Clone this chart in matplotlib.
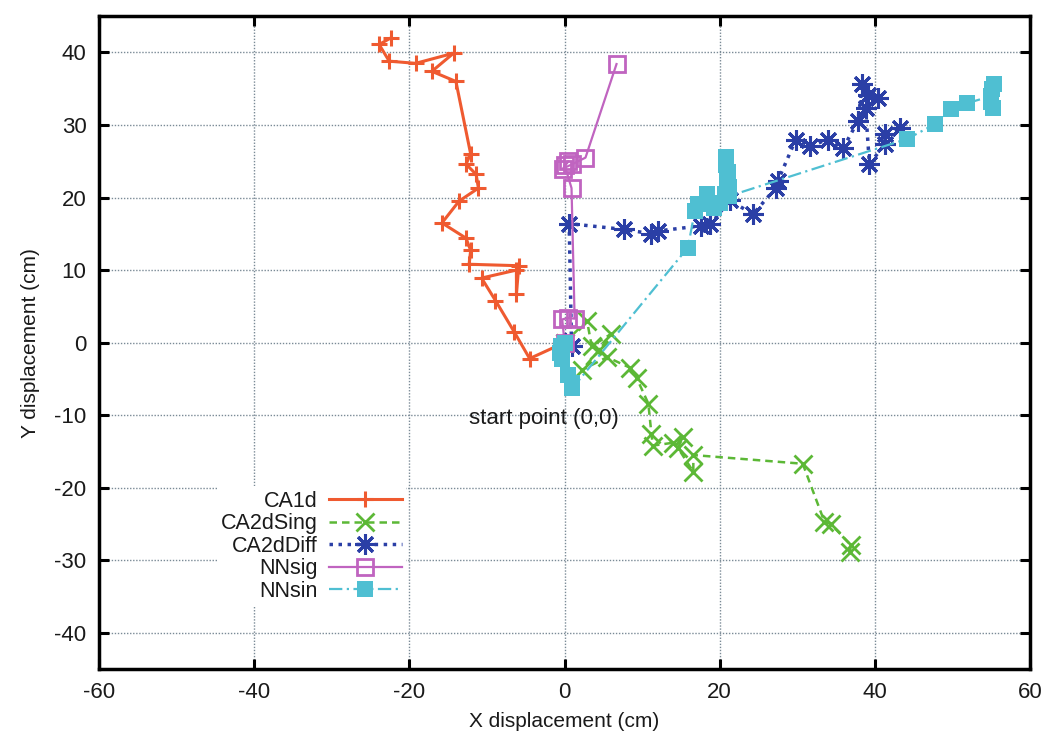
import matplotlib
matplotlib.use("Agg")
import matplotlib.pyplot as plt

plt.rcParams['font.family'] = ['Liberation Sans', 'DejaVu Sans']
plt.rcParams['axes.unicode_minus'] = False

# ---- data (cm) ----
ca1d_x = [0, -4.5, -6.5, -8.9, -10.7, -6.2, -6.2, -5.9, -12.3, -12.1, -12.7, -15.8,
          -13.6, -11.1, -11.4, -12.7, -12.1, -14.0, -17.1, -14.3, -19.2, -22.6, -23.9, -22.4]
ca1d_y = [0, -2.2, 1.5, 5.8, 8.9, 10.0, 6.7, 10.6, 10.8, 12.7, 14.4, 16.5,
          19.5, 21.3, 23.2, 24.6, 26.0, 36.0, 37.4, 39.9, 38.5, 38.8, 41.1, 42.0]

ca2dsing_x = [0, 2.9, 3.5, 6.0, 4.5, 2.2, 5.5, 8.5, 9.3, 10.8, 11.2, 11.4, 14.0, 15.3,
              14.6, 16.6, 16.6, 30.7, 33.5, 34.3, 36.9, 36.8]
ca2dsing_y = [0, 3.0, -0.5, 1.2, -1.0, -3.8, -2.0, -3.5, -4.9, -8.4, -12.6, -14.2, -13.8, -13.0,
              -14.5, -17.8, -15.5, -16.7, -24.7, -25.0, -27.9, -28.9]

ca2ddiff_x = [0, 0.9, 0.6, 7.7, 11.2, 12.1, 17.6, 18.8, 21.3, 24.3, 27.2, 27.5, 29.8, 31.7,
              33.9, 35.9, 37.8, 38.4, 39.1, 40.4, 38.8, 39.3, 41.3, 41.3, 43.2]
ca2ddiff_y = [0, -0.4, 16.4, 15.6, 15.0, 15.4, 16.1, 16.3, 19.6, 17.7, 21.3, 22.3, 28.0, 27.1,
              28.0, 26.8, 30.5, 35.6, 34.2, 33.7, 32.3, 24.6, 27.4, 28.7, 29.6]

nnsig_x = [0, -0.3, 0.5, 1.3, 0.9, 0.0, 0.5, -0.2, 1.0, 2.7, 6.7]
nnsig_y = [0, 3.2, 3.4, 3.3, 21.3, 24.5, 25.0, 24.0, 24.6, 25.5, 38.4]

nnsin_x = [0, -0.5, -0.6, -0.3, 0.4, 1.0, 1.0, 15.9, 16.8, 17.2, 18.3, 19.2, 20.0, 20.7,
           21.2, 20.9, 21.1, 20.8, 20.8, 21.2, 44.2, 47.7, 49.8, 51.9, 55.0, 55.3, 55.1, 55.0, 55.2]
nnsin_y = [0, -0.5, -1.5, -2.2, -4.5, -5.6, -6.3, 13.1, 18.2, 19.1, 20.5, 18.6, 19.3, 20.5,
           21.5, 22.5, 23.5, 24.5, 25.6, 20.2, 28.1, 30.1, 32.2, 33.0, 34.0, 35.6, 35.0, 33.2, 32.3]

labels = ["CA1d", "CA2dSing", "CA2dDiff", "NNsig", "NNsin"]
x_ticks = [-60, -40, -20, 0, 20, 40, 60]
y_ticks = [-40, -30, -20, -10, 0, 10, 20, 30, 40]

TXT = '#1a1a1a'

fig = plt.figure(figsize=(10.47, 7.36), dpi=100)
ax = fig.add_axes([0.0946, 0.091, 0.8892, 0.887])

ax.plot(ca1d_x, ca1d_y, color='#ef5a30', lw=2.2, ls='-', marker='+', ms=12, mew=2.2,
        label=labels[0], zorder=3)
ax.plot(ca2dsing_x, ca2dsing_y, color='#5cb836', lw=1.8, ls=(0, (3, 2)), marker='x', ms=13, mew=2.0,
        label=labels[1], zorder=3)
ax.plot(ca2ddiff_x, ca2ddiff_y, color='#2b3fa6', lw=2.5, ls=(0, (1, 1.6)), marker=(8, 2, 0), ms=15, mew=2.2,
        label=labels[2], zorder=3)
ax.plot(nnsig_x, nnsig_y, color='#c064c0', lw=1.6, ls='-', marker='s', ms=11, mew=2.0, mfc='none',
        label=labels[3], zorder=3)
ax.plot(nnsin_x, nnsin_y, color='#4fbfd2', lw=1.6, ls=(0, (6, 2, 1, 2)), marker='s', ms=11, mew=0,
        label=labels[4], zorder=3)

ax.set_xlim(-60, 60)
ax.set_ylim(-45, 45)
ax.set_xticks(x_ticks)
ax.set_yticks(y_ticks)
ax.grid(True, color='#7a8a96', lw=1.0, ls=(0, (1, 1.2)))
ax.set_axisbelow(True)
for s in ax.spines.values():
    s.set_linewidth(2.5)
ax.tick_params(direction='in', length=7, width=2.2, top=True, right=True,
               labelsize=16, pad=9, labelcolor=TXT)

ax.set_xlabel("X displacement (cm)", fontsize=15, labelpad=7, color=TXT)
ax.set_ylabel("Y displacement (cm)", fontsize=15, labelpad=10, color=TXT)

ax.text(-12.3, -10.4, "start point (0,0)", fontsize=16, ha='left', va='center', color=TXT)

leg = ax.legend(loc='upper right', bbox_to_anchor=(0.33, 0.28), markerfirst=False,
                frameon=True, fancybox=False, edgecolor='none', facecolor='white', framealpha=1,
                fontsize=15.5, handlelength=3.4, labelspacing=0.07, borderpad=0.2,
                handletextpad=0.5, borderaxespad=0)
for t in leg.get_texts():
    t.set_color(TXT)

fig.savefig("out.png", dpi=100)
